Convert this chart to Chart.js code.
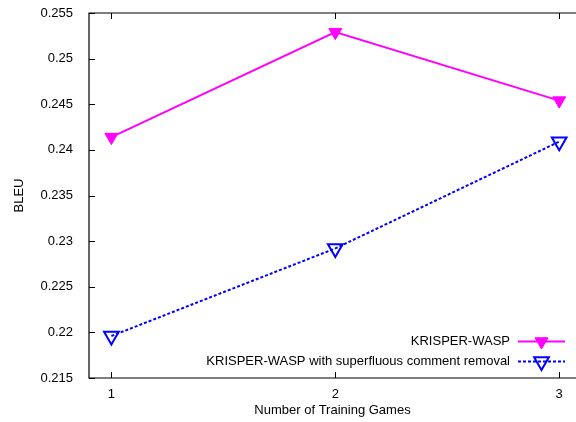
<!DOCTYPE html>
<html>
<head>
<meta charset="utf-8">
<script src="https://cdn.jsdelivr.net/npm/chart.js@4/dist/chart.umd.min.js"></script>
<style>
  html, body { margin: 0; padding: 0; background: #fff; overflow: hidden; }
  #wrap { width: 576px; height: 422px; }
</style>
</head>
<body>
<div id="wrap"><canvas id="c" width="576" height="422"></canvas></div>
<script>
// BLEU score against the number of training games
const trainingGames = [1, 2, 3];
const bleuKrisper = [0.2414, 0.2529, 0.2454];
const bleuCommentRemoval = [0.2196, 0.2292, 0.2409];
const xTickValues = [1, 2, 3];
const yTickValues = [0.215, 0.22, 0.225, 0.23, 0.235, 0.24, 0.245, 0.25, 0.255];
const seriesNames = ['KRISPER-WASP', 'KRISPER-WASP with superfluous comment removal'];
const xTitle = 'Number of Training Games';
const yTitle = 'BLEU';

const FONT_FAMILY = "'Liberation Sans', Arial, Helvetica, sans-serif";
const FONT = { family: FONT_FAMILY, size: 13 };

Chart.defaults.color = '#000';
Chart.defaults.font.family = FONT_FAMILY;

const toPoints = ys => trainingGames.map((x, i) => ({ x: x, y: ys[i] }));

// Box frame with inward-pointing tick marks
const framePlugin = {
  id: 'frame',
  beforeDatasetsDraw(chart) {
    const { ctx, chartArea: a, scales } = chart;
    const tickLen = 6;
    ctx.save();
    ctx.strokeStyle = '#000';
    ctx.lineWidth = 1.2;
    ctx.beginPath();
    ctx.moveTo(a.right + 1, a.top);
    ctx.lineTo(a.left, a.top);
    ctx.lineTo(a.left, a.bottom);
    ctx.lineTo(a.right + 1, a.bottom);
    ctx.stroke();
    ctx.lineWidth = 1;
    ctx.beginPath();
    yTickValues.forEach(v => {
      const y = Math.round(scales.y.getPixelForValue(v)) + 0.5;
      ctx.moveTo(a.left, y);
      ctx.lineTo(a.left + tickLen, y);
    });
    xTickValues.forEach(v => {
      const x = Math.round(scales.x.getPixelForValue(v)) + 0.5;
      ctx.moveTo(x, a.bottom);
      ctx.lineTo(x, a.bottom - tickLen);
      ctx.moveTo(x, a.top);
      ctx.lineTo(x, a.top + tickLen);
    });
    ctx.stroke();
    ctx.restore();
  }
};

// Key in the lower right: label text, then line sample with its marker
const keyPlugin = {
  id: 'key',
  afterDatasetsDraw(chart) {
    const { ctx } = chart;
    const textRight = 510;
    const lineStart = 518;
    const lineEnd = 565;
    const firstY = 341.5;
    const rowGap = 20;
    ctx.save();
    chart.data.datasets.forEach((ds, i) => {
      const y = firstY + i * rowGap;
      ctx.font = `${FONT.size}px ${FONT_FAMILY}`;
      ctx.fillStyle = '#000';
      ctx.textAlign = 'right';
      ctx.textBaseline = 'middle';
      ctx.fillText(ds.label, textRight, y);

      ctx.save();
      ctx.strokeStyle = ds.borderColor;
      ctx.lineWidth = ds.borderWidth;
      ctx.setLineDash(ds.borderDash || []);
      ctx.beginPath();
      ctx.moveTo(lineStart, y);
      ctx.lineTo(lineEnd, y);
      ctx.stroke();
      ctx.restore();

      ctx.save();
      ctx.fillStyle = ds.pointBackgroundColor;
      ctx.strokeStyle = ds.pointBorderColor;
      ctx.lineWidth = ds.pointBorderWidth;
      Chart.helpers.drawPoint(ctx, {
        pointStyle: ds.pointStyle,
        rotation: ds.pointRotation,
        radius: ds.pointRadius,
        borderWidth: ds.pointBorderWidth
      }, (lineStart + lineEnd) / 2, y);
      ctx.restore();
    });
    ctx.restore();
  }
};

new Chart(document.getElementById('c'), {
  type: 'line',
  data: {
    datasets: [
      {
        label: seriesNames[0],
        data: toPoints(bleuKrisper),
        borderColor: '#ff00ff',
        backgroundColor: '#ff00ff',
        borderWidth: 2,
        pointStyle: 'triangle',
        pointRotation: 180,
        pointRadius: 7.5,
        pointBorderWidth: 1,
        pointBackgroundColor: '#ff00ff',
        pointBorderColor: '#ff00ff',
        tension: 0
      },
      {
        label: seriesNames[1],
        data: toPoints(bleuCommentRemoval),
        borderColor: '#0000ff',
        backgroundColor: 'rgba(0,0,0,0)',
        borderWidth: 2,
        borderDash: [3, 2],
        pointStyle: 'triangle',
        pointRotation: 180,
        pointRadius: 8.5,
        pointBorderWidth: 2,
        pointBackgroundColor: 'rgba(0,0,0,0)',
        pointBorderColor: '#0000ff',
        tension: 0
      }
    ]
  },
  options: {
    responsive: false,
    animation: false,
    events: [],
    layout: { autoPadding: false, padding: { top: 13, left: 0, right: 0, bottom: 0 } },
    plugins: {
      legend: { display: false },
      tooltip: { enabled: false }
    },
    scales: {
      x: {
        type: 'linear',
        min: 0.9,
        max: 3.075,
        grid: { display: false },
        border: { display: false },
        afterBuildTicks: s => { s.ticks = xTickValues.map(v => ({ value: v })); },
        afterFit: s => { s.height = 44; s.paddingLeft = 0; s.paddingRight = 0; },
        ticks: { font: FONT, color: '#000', padding: 1, maxRotation: 0, callback: v => String(v) },
        title: { display: true, text: xTitle, font: FONT, color: '#000', padding: { top: 0, bottom: 4 } }
      },
      y: {
        type: 'linear',
        min: 0.215,
        max: 0.255,
        grid: { display: false },
        border: { display: false },
        afterBuildTicks: s => { s.ticks = yTickValues.map(v => ({ value: v })); },
        afterFit: s => { s.width = 89; s.paddingTop = 0; s.paddingBottom = 0; },
        ticks: { font: FONT, color: '#000', padding: 8, callback: v => String(+Number(v).toFixed(3)) },
        title: { display: true, text: yTitle, font: FONT, color: '#000', padding: { top: 12, bottom: 0 } }
      }
    }
  },
  plugins: [framePlugin, keyPlugin]
});
</script>
</body>
</html>
